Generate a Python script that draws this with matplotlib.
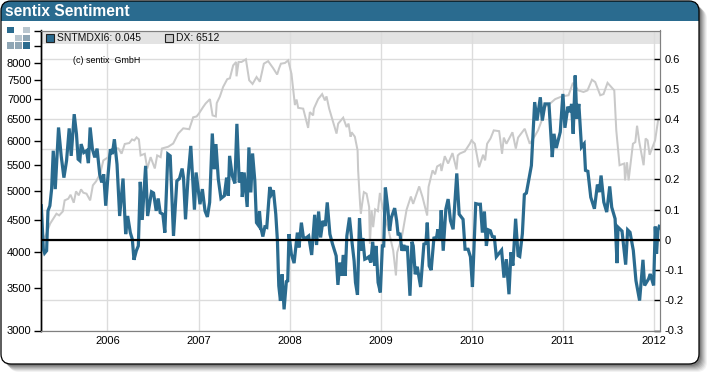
import matplotlib
matplotlib.use('Agg')
import matplotlib.pyplot as plt
from matplotlib.patches import FancyBboxPatch, Rectangle
from matplotlib.ticker import NullLocator

plt.rcParams['font.family'] = ['Liberation Sans', 'DejaVu Sans']

year_ticks = [2006, 2007, 2008, 2009, 2010, 2011, 2012]
dx_ticks = [3000, 3500, 4000, 4500, 5000, 5500, 6000, 6500, 7000, 7500, 8000, 8500, 9000]
dx_tick_labels = ['3000', '3500', '4000', '4500', '5000', '5500', '6000', '6500', '7000', '7500', '8000', '', '']
sent_ticks = [-0.3, -0.2, -0.1, 0, 0.1, 0.2, 0.3, 0.4, 0.5, 0.6]
sent_tick_labels = ['-0.3', '-0.2', '-0.1', '0', '0.1', '0.2', '0.3', '0.4', '0.5', '0.6']

# sentiment index
sent_years = [
    2005.274, 2005.296, 2005.310, 2005.332, 2005.347, 2005.368, 2005.387, 2005.405, 2005.427, 2005.463,
    2005.492, 2005.522, 2005.551, 2005.580, 2005.602, 2005.635, 2005.660, 2005.678, 2005.697, 2005.711,
    2005.740, 2005.770, 2005.791, 2005.810, 2005.835, 2005.861, 2005.886, 2005.915, 2005.937, 2005.959,
    2005.981, 2006.007, 2006.032, 2006.054, 2006.076, 2006.105, 2006.134, 2006.171, 2006.200, 2006.222,
    2006.251, 2006.273, 2006.291, 2006.317, 2006.339, 2006.360, 2006.382, 2006.419, 2006.441, 2006.484,
    2006.506, 2006.535, 2006.557, 2006.579, 2006.608, 2006.630, 2006.663, 2006.689, 2006.725, 2006.762,
    2006.791, 2006.820, 2006.835, 2006.857, 2006.886, 2006.915, 2006.955, 2006.973,
    2007.016, 2007.042, 2007.071, 2007.097, 2007.122, 2007.151, 2007.173, 2007.191, 2007.217, 2007.246,
    2007.283, 2007.308, 2007.326, 2007.341, 2007.370, 2007.399, 2007.421, 2007.447, 2007.472, 2007.480,
    2007.501, 2007.534, 2007.553, 2007.574, 2007.593, 2007.618, 2007.636, 2007.662, 2007.669, 2007.684,
    2007.706, 2007.728, 2007.749, 2007.782, 2007.800, 2007.822, 2007.848, 2007.866, 2007.881, 2007.899,
    2007.917, 2007.939, 2007.964, 2007.979, 2007.993, 2008.019, 2008.049, 2008.085, 2008.103, 2008.129,
    2008.151, 2008.180, 2008.209, 2008.242, 2008.275, 2008.296, 2008.318, 2008.340, 2008.365, 2008.391,
    2008.413, 2008.442, 2008.471, 2008.511, 2008.530, 2008.552, 2008.574, 2008.588, 2008.610, 2008.628,
    2008.657, 2008.683, 2008.708, 2008.723, 2008.745, 2008.767, 2008.788, 2008.803, 2008.825, 2008.847,
    2008.869, 2008.891, 2008.912, 2008.934, 2008.949, 2008.971, 2008.996, 2009.018, 2009.033, 2009.051,
    2009.077, 2009.098, 2009.117, 2009.153, 2009.175, 2009.190, 2009.212, 2009.233, 2009.255, 2009.270,
    2009.292, 2009.321, 2009.343, 2009.357, 2009.379, 2009.401, 2009.438, 2009.474, 2009.496, 2009.511,
    2009.532, 2009.554, 2009.584, 2009.613, 2009.627, 2009.649, 2009.664, 2009.686, 2009.715, 2009.740,
    2009.766, 2009.795, 2009.835, 2009.861, 2009.904, 2009.926, 2009.959, 2009.985, 2010.007, 2010.043,
    2010.072, 2010.094, 2010.116, 2010.138, 2010.160, 2010.182, 2010.204, 2010.225, 2010.247, 2010.269,
    2010.327, 2010.353, 2010.379, 2010.408, 2010.430, 2010.451, 2010.481, 2010.508, 2010.526, 2010.555,
    2010.577, 2010.599, 2010.654, 2010.690, 2010.716, 2010.752, 2010.774, 2010.803, 2010.847, 2010.883,
    2010.902, 2010.927, 2010.971, 2011.000, 2011.022, 2011.055, 2011.080, 2011.095, 2011.113, 2011.135,
    2011.153, 2011.175, 2011.204, 2011.233, 2011.248, 2011.274, 2011.306, 2011.346, 2011.379, 2011.401,
    2011.419, 2011.449, 2011.481, 2011.514, 2011.536, 2011.573, 2011.594, 2011.605, 2011.649, 2011.689,
    2011.711, 2011.737, 2011.773, 2011.802, 2011.842, 2011.879, 2011.897, 2011.941, 2011.959, 2011.996,
    2012.014, 2012.028, 2012.043, 2012.058,
]
sent_values = [
    0.113, -0.030, -0.044, -0.036, 0.096, 0.113, 0.168, 0.295, 0.168, 0.372,
    0.278, 0.206, 0.262, 0.369, 0.278, 0.416, 0.350, 0.267, 0.262, 0.317,
    0.289, 0.295, 0.254, 0.372, 0.300, 0.273, 0.302, 0.217, 0.190, 0.217,
    0.113, 0.217, 0.300, 0.284, 0.333, 0.250, 0.079, 0.203, 0.019, 0.079,
    0.024, 0.002, -0.066, -0.036, -0.020, 0.192, 0.066, 0.245, 0.079, 0.159,
    0.155, 0.096, 0.137, 0.090, 0.085, 0.024, 0.284, 0.278, 0.013, 0.195,
    0.203, 0.236, 0.206, 0.068, 0.212, 0.311, 0.100, 0.223,
    0.118, 0.168, 0.096, 0.076, 0.124, 0.352, 0.234, 0.317, 0.201, 0.137,
    0.146, 0.206, 0.146, 0.278, 0.212, 0.187, 0.384, 0.190, 0.223, 0.142,
    0.223, 0.109, 0.306, 0.157, 0.286, 0.195, 0.057, 0.046, 0.094, 0.041,
    0.011, 0.043, 0.041, 0.175, 0.151, 0.164, 0.085, -0.003, -0.152, -0.202,
    -0.114, -0.230, -0.138, -0.136, 0.019, -0.047, -0.077, 0.024, -0.025, 0.057,
    0.008, 0.006, 0.013, -0.050, 0.083, -0.017, 0.094, 0.008, 0.063, 0.046,
    0.124, 0.019, -0.014, -0.053, -0.149, -0.075, -0.119, -0.050, -0.119, 0.013,
    0.074, -0.003, -0.070, -0.141, -0.182, 0.071, -0.036, 0.006, -0.064, -0.061,
    -0.056, -0.075, -0.006, -0.086, -0.020, -0.141, -0.174, -0.020, -0.020, 0.173,
    0.107, 0.030, 0.074, 0.105, 0.063, 0.019, 0.019, -0.036, -0.017, -0.036,
    -0.020, -0.185, -0.006, -0.020, -0.114, -0.089, -0.156, -0.014, -0.012, 0.057,
    -0.086, -0.100, 0.006, 0.008, 0.035, 0.002, 0.098, -0.036, 0.102, 0.135,
    0.063, 0.035, 0.220, 0.085, 0.068, -0.031, -0.031, -0.056, -0.156, 0.120,
    0.118, 0.118, 0.024, 0.094, -0.020, 0.033, 0.030, 0.011, 0.010, -0.056,
    -0.034, -0.125, -0.064, -0.180, -0.041, -0.085, 0.070, -0.052, -0.055, 0.020,
    0.150, 0.155, 0.246, 0.456, 0.395, 0.472, 0.395, 0.450, 0.450, 0.274,
    0.351, 0.304, 0.357, 0.483, 0.371, 0.441, 0.423, 0.450, 0.351, 0.544,
    0.401, 0.450, 0.307, 0.318, 0.230, 0.227, 0.141, 0.103, 0.183, 0.158,
    0.213, 0.125, 0.092, 0.177, 0.108, 0.070, -0.077, 0.042, 0.029, -0.082,
    0.033, 0.025, -0.035, -0.135, -0.201, -0.066, -0.151, -0.129, -0.113, -0.151,
    0.044, -0.046, 0.031, 0.045,
]

# DX index
dx_years = [
    2005.270, 2005.33, 2005.37, 2005.405, 2005.44, 2005.47, 2005.51, 2005.53, 2005.57, 2005.595,
    2005.63, 2005.655, 2005.685, 2005.71, 2005.735, 2005.77, 2005.81, 2005.84, 2005.875, 2005.92,
    2005.955, 2006.01, 2006.035, 2006.08, 2006.12, 2006.155, 2006.19, 2006.24, 2006.27, 2006.295,
    2006.32, 2006.345, 2006.364, 2006.41, 2006.437, 2006.474, 2006.52, 2006.546, 2006.584, 2006.598,
    2006.667, 2006.722, 2006.777, 2006.832, 2006.898, 2006.941, 2006.979, 2007.007, 2007.05, 2007.078,
    2007.125, 2007.154, 2007.19, 2007.20, 2007.234, 2007.27, 2007.315, 2007.344, 2007.38, 2007.413,
    2007.417, 2007.44, 2007.472, 2007.52, 2007.556, 2007.593, 2007.637, 2007.673, 2007.717, 2007.764,
    2007.819, 2007.863, 2007.885, 2007.904, 2007.948, 2007.984, 2008.02, 2008.058, 2008.076, 2008.094,
    2008.149, 2008.203, 2008.222, 2008.258, 2008.266, 2008.313, 2008.357, 2008.387, 2008.405, 2008.434,
    2008.515, 2008.533, 2008.588, 2008.625, 2008.647, 2008.669, 2008.68, 2008.716, 2008.746, 2008.752,
    2008.774, 2008.782, 2008.796, 2008.815, 2008.845, 2008.873, 2008.881, 2008.90, 2008.917, 2008.939,
    2008.969, 2008.991, 2009.02, 2009.093, 2009.137, 2009.167, 2009.181, 2009.229, 2009.284, 2009.331,
    2009.356, 2009.422, 2009.459, 2009.51, 2009.525, 2009.569, 2009.597, 2009.619, 2009.656, 2009.667,
    2009.703, 2009.74, 2009.788, 2009.832, 2009.846, 2009.868, 2009.923, 2009.978, 2009.996, 2010.033,
    2010.08, 2010.124, 2010.146, 2010.168, 2010.205, 2010.241, 2010.30, 2010.332, 2010.351, 2010.38,
    2010.446, 2010.483, 2010.508, 2010.581, 2010.636, 2010.69, 2010.727, 2010.768, 2010.805, 2010.86,
    2010.915, 2010.989, 2011.062, 2011.11, 2011.168, 2011.226, 2011.27, 2011.319, 2011.355, 2011.41,
    2011.446, 2011.49, 2011.528, 2011.564, 2011.586, 2011.622, 2011.674, 2011.682, 2011.704, 2011.721,
    2011.769, 2011.795, 2011.814, 2011.839, 2011.886, 2011.908, 2011.93, 2011.952, 2011.99, 2012.012,
    2012.045, 2012.058,
]
dx_values = [
    4111, 4276, 4435, 4517, 4601, 4573, 4640, 4831, 4861, 4932,
    4790, 4993, 4921, 5030, 4969, 4951, 4831, 5105, 5180, 5327,
    5593, 5660, 5802, 5855, 5842, 5733, 5940, 5960, 6040, 6018,
    6085, 6040, 5696, 5730, 5430, 5660, 5430, 5696, 5660, 5842,
    5880, 5950, 6170, 6290, 6270, 6550, 6570, 6650, 6800, 6890,
    7000, 6595, 6570, 6900, 7065, 7320, 7530, 7555, 7920, 8020,
    7610, 8020, 8020, 8100, 7500, 7400, 7590, 7460, 7970, 8045,
    7840, 7660, 7840, 7970, 7990, 8068, 7684, 6850, 6990, 6780,
    6760, 6300, 6675, 6595, 6760, 7000, 7130, 6968, 7070, 6760,
    6170, 6400, 6540, 6320, 6400, 6100, 6200, 6100, 5802, 5392,
    4755, 4605, 4770, 4980, 4950, 4715, 4120, 4657, 4380, 4675,
    4645, 4965, 4715, 4285, 4022, 3670, 3995, 4200, 4670, 4900,
    4770, 5085, 4890, 4570, 5075, 5392, 5315, 5470, 5510, 5380,
    5680, 5530, 5745, 5410, 5695, 5735, 5780, 5945, 6018, 5945,
    5455, 5710, 5593, 5945, 6060, 6243, 6225, 5730, 6080, 5945,
    6200, 5840, 6080, 6280, 5945, 6110, 6243, 6476, 6800, 6890,
    7000, 7070, 7100, 7430, 7230, 7185, 7228, 7515, 7450, 7100,
    7130, 7430, 7325, 7228, 6243, 5495, 5530, 5198, 5555, 5198,
    5945, 5980, 6350, 5980, 5495, 6060, 6018, 5710, 5900, 6018,
    6476, 6512,
]

W, H = 710, 376
blue = '#2A6B8F'
gray = '#C9C9C9'
grid = '#DCDCDC'

fig = plt.figure(figsize=(W / 100, H / 100), dpi=100)
fig.patch.set_facecolor('white')

# panel chrome in pixel coordinates
bg = fig.add_axes([0, 0, 1, 1], zorder=0)
bg.set_xlim(0, W)
bg.set_ylim(H, 0)
bg.axis('off')
box_style = 'round,pad=0,rounding_size=10'
for off, a in [(8, 0.05), (7, 0.06), (6, 0.08), (5, 0.09), (4, 0.10), (3, 0.12), (2, 0.14)]:
    bg.add_patch(FancyBboxPatch((1 + off, 1 + off), 698, 363, boxstyle=box_style,
                                fc='black', ec='none', alpha=a))
panel = FancyBboxPatch((1, 1), 698, 363, boxstyle=box_style, fc='white', ec='none')
bg.add_patch(panel)
bar = Rectangle((0, 0), W, 21, fc=blue, ec='none')
bg.add_patch(bar)
bar.set_clip_path(panel)
bg.add_patch(FancyBboxPatch((1, 1), 698, 363, boxstyle=box_style, fc='none', ec='black', lw=0.9))
bg.text(5, 11, 'sentix Sentiment', color='white', fontsize=11.2, fontweight='bold', va='center', ha='left')

# logo squares
logo = [(7, 26.5, '#2A6B8F'), (23, 26.5, '#B9C6CF'), (15, 34.5, '#B9C6CF'), (23, 34.5, '#8FA6B5'),
        (7, 42, '#8FA6B5'), (15, 42, '#8FA6B5'), (23, 42, '#2A6B8F')]
for lx, ly, lc in logo:
    bg.add_patch(Rectangle((lx, ly), 6.8, 6.8, fc=lc, ec='none'))

rect = [40.5 / W, 1 - 330.5 / H, 619.5 / W, 300 / H]
x_min, x_max = 2005.265, 2012.066
sent_min, sent_max = -0.3, 0.693
dx_min, dx_max = 3000, 9000

# bottom layer: band and grid
ax_grid = fig.add_axes(rect, zorder=1)
ax_grid.set_xlim(x_min, x_max)
ax_grid.set_ylim(sent_min, sent_max)
ax_grid.set_xticks(year_ticks)
ax_grid.set_xticklabels([])
ax_grid.set_yticks(sent_ticks)
ax_grid.set_yticklabels([])
ax_grid.tick_params(length=0)
ax_grid.grid(True, color=grid, lw=1.0)
ax_grid.set_axisbelow(True)
ax_grid.axhspan(0.647, sent_max, color='#E3E3E3', lw=0, zorder=0.5)
for s in ax_grid.spines.values():
    s.set_visible(False)

# DX on the left log axis
ax = fig.add_axes(rect, zorder=2)
ax.patch.set_visible(False)
ax.plot(dx_years, dx_values, color=gray, lw=1.45, solid_joinstyle='miter')
ax.set_yscale('log')
ax.set_xlim(x_min, x_max)
ax.set_ylim(dx_min, dx_max)
ax.set_yticks(dx_ticks)
ax.set_yticklabels(dx_tick_labels)
ax.yaxis.set_minor_locator(NullLocator())
ax.set_xticks(year_ticks)
ax.set_xticklabels([str(y) for y in year_ticks])
ax.tick_params(axis='x', length=0, pad=4, labelsize=8)
ax.tick_params(axis='y', length=5, width=1, pad=1.5, labelsize=8, color='black')

# sentiment on the right axis
ax2 = fig.add_axes(rect, zorder=3)
ax2.patch.set_visible(False)
ax2.plot(sent_years, sent_values, color=blue, lw=2.3, solid_joinstyle='miter')
ax2.axhline(0, color='black', lw=1.6)
ax2.set_xlim(x_min, x_max)
ax2.set_ylim(sent_min, sent_max)
ax2.set_xticks([])
ax2.yaxis.tick_right()
ax2.set_yticks(sent_ticks)
ax2.set_yticklabels(sent_tick_labels)
ax2.tick_params(axis='y', direction='in', length=4, width=1, pad=3, labelsize=8, color='black')

for a_ in (ax, ax2):
    a_.spines['left'].set_color('black')
    a_.spines['right'].set_color('#808080')
    a_.spines['top'].set_color('#808080')
    a_.spines['bottom'].set_color('#808080')
    a_.spines['left'].set_linewidth(1.0)

# legend and copyright in pixel coordinates
fg = fig.add_axes([0, 0, 1, 1], zorder=4)
fg.set_xlim(0, W)
fg.set_ylim(H, 0)
fg.axis('off')
fg.add_patch(Rectangle((45.5, 33.5), 8, 8, fc=blue, ec='#222222', lw=0.8))
fg.text(57, 38, 'SNTMDXI6: 0.045', fontsize=7.5, va='center', ha='left', color='#111111')
fg.add_patch(Rectangle((164.5, 33.5), 8, 8, fc=gray, ec='#222222', lw=0.8))
fg.text(176, 38, 'DX: 6512', fontsize=7.5, va='center', ha='left', color='#111111')
fg.text(73, 60.5, '(c) sentix  GmbH', fontsize=6.4, va='center', ha='left', color='black')

fig.savefig('out.png', dpi=100)
